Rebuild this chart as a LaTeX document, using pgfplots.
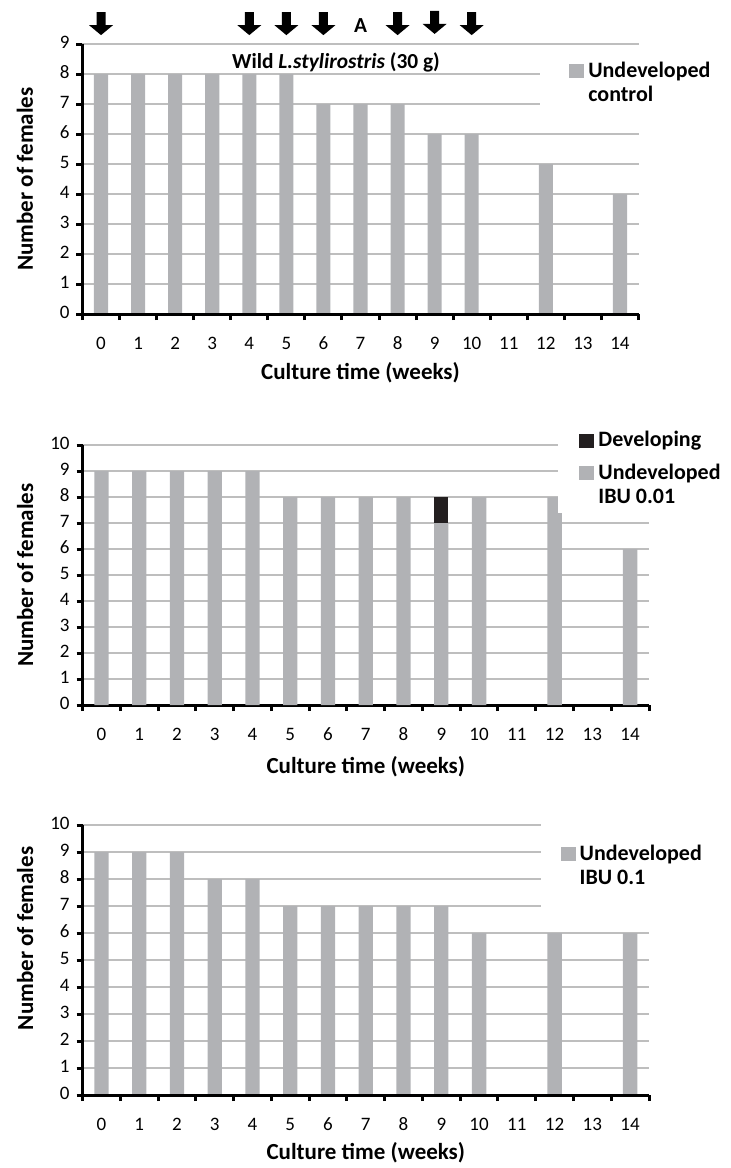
\documentclass[border=0pt]{standalone}
\usepackage{fontspec}
\setmainfont{Carlito}
\usepackage{pgfplots}
\pgfplotsset{compat=1.18}

\definecolor{barg}{RGB}{177,178,181}
\definecolor{dev}{RGB}{35,31,32}
\definecolor{gridg}{RGB}{190,190,190}

\pgfdeclareplotmark{dnarrow}{%
 \pgfpathmoveto{\pgfpoint{-2.25pt}{5.75pt}}%
 \pgfpathlineto{\pgfpoint{2.25pt}{5.75pt}}%
 \pgfpathlineto{\pgfpoint{2.25pt}{-0.75pt}}%
 \pgfpathlineto{\pgfpoint{6pt}{-0.75pt}}%
 \pgfpathlineto{\pgfpoint{0pt}{-5.75pt}}%
 \pgfpathlineto{\pgfpoint{-6pt}{-0.75pt}}%
 \pgfpathlineto{\pgfpoint{-2.25pt}{-0.75pt}}%
 \pgfpathclose
 \pgfusepathqfill}

\pgfplotsset{
 panel/.style={
  scale only axis,
  anchor=south west,
  xmin=-0.5, xmax=14.5, ymin=0,
  axis x line*=bottom, axis y line*=left,
  axis line style={line width=1.5pt,-},
  tick align=outside,
  xtick={0,...,14},
  minor xtick={-0.5,0.5,...,14.5},
  major tick length=3pt,
  minor tick length=3pt,
  tick style={line width=1.5pt, black},
  major x tick style={draw=none},
  ymajorgrids,
  major grid style={gridg, line width=0.75pt},
  ticklabel style={font=\fontsize{9.5}{10.5}\selectfont},
  typeset ticklabels with strut,
  /pgf/number format/assume math mode=true,
  xticklabel style={yshift=-4pt},
  label style={font=\bfseries\fontsize{11.5}{13}\selectfont},
  xlabel={Culture time (weeks)},
  ylabel={Number of females},
  clip=false,
  legend cell align=left,
  legend style={draw=none, fill=white, anchor=west,
    font=\bfseries\fontsize{11}{12}\selectfont,
    cells={anchor=west, align=left}},
 },
 sq/.style={legend image code/.code={\fill[#1] (0pt,-3.5pt) rectangle (7.5pt,3.5pt);}},
 sqtwo/.style={legend image code/.code={\fill[#1] (0pt,2.5pt) rectangle (7.5pt,9.5pt);}},
}

\begin{document}
\begin{tikzpicture}
\path[use as bounding box] (0,0) rectangle (365.5pt,-584pt);

% ---------- Panel 1 ----------
\begin{axis}[panel, at={(41.25pt,-157pt)}, width=278pt, height=135pt,
  ymax=9, ytick={0,...,9},
  xlabel style={at={(axis description cs:0.5,0)}, anchor=center, yshift=-29.5pt},
  ylabel style={at={(axis description cs:-0.1034,0.5)}, anchor=center},
  legend style={at={(axis cs:11.84,7.7)}, inner xsep=14.5pt, inner ysep=6pt}]
\addplot[ybar, bar width=0.38, fill=barg, draw=none, sqtwo={fill=barg}] coordinates {
 (0,8) (1,8) (2,8) (3,8) (4,8) (5,8) (6,7) (7,7) (8,7) (9,6) (10,6) (12,5) (14,4)};
\addlegendentry{Undeveloped\\control}
\addplot[only marks, mark=dnarrow, black, forget plot] coordinates {
 (0,9.68) (4,9.68) (5,9.68) (6,9.68) (8,9.68) (9,9.72) (10,9.68)};
\node[font=\bfseries\fontsize{10.7}{12}\selectfont] at (axis cs:7,9.63) {A};
\node[font=\bfseries\fontsize{10.7}{12}\selectfont] at (axis cs:6.34,8.4) {Wild \textit{L.stylirostris} (30 g)};
\draw[line width=1.5pt] (axis cs:-0.5,0) -- (axis cs:14.5,0);
\end{axis}

% ---------- Panel 2 ----------
\begin{axis}[panel, at={(41.3pt,-352.5pt)}, width=283.2pt, height=130pt,
  ymax=10, ytick={0,...,10},
  ybar stacked, bar width=0.38,
  reverse legend,
  xlabel style={at={(axis description cs:0.5,0)}, anchor=center, yshift=-31pt},
  ylabel style={at={(axis description cs:-0.1015,0.5)}, anchor=center},
  legend style={at={(axis cs:12.09,9.08)}, inner xsep=10.5pt, inner ysep=1.5pt, row sep=3pt}]
\addplot[fill=barg, draw=none, sqtwo={fill=barg}] coordinates {
 (0,9) (1,9) (2,9) (3,9) (4,9) (5,8) (6,8) (7,8) (8,8) (9,7) (10,8) (12,8) (14,6)};
\addlegendentry{Undeveloped\\IBU 0.01}
\addplot[fill=dev, draw=none, sq={fill=dev}] coordinates {
 (0,0) (1,0) (2,0) (3,0) (4,0) (5,0) (6,0) (7,0) (8,0) (9,1) (10,0) (12,0) (14,0)};
\addlegendentry{Developing}
\draw[line width=1.5pt] (axis cs:-0.5,0) -- (axis cs:14.5,0);
\end{axis}

% ---------- Panel 3 ----------
\begin{axis}[panel, at={(41.3pt,-547.5pt)}, width=283.2pt, height=135pt,
  ymax=10, ytick={0,...,10},
  xlabel style={at={(axis description cs:0.5,0)}, anchor=center, yshift=-29pt},
  ylabel style={at={(axis description cs:-0.1015,0.58)}, anchor=center},
  legend style={at={(axis cs:11.62,8.48)}, inner xsep=10pt, inner ysep=12pt}]
\addplot[ybar, bar width=0.38, fill=barg, draw=none, sqtwo={fill=barg}] coordinates {
 (0,9) (1,9) (2,9) (3,8) (4,8) (5,7) (6,7) (7,7) (8,7) (9,7) (10,6) (12,6) (14,6)};
\addlegendentry{Undeveloped\\IBU 0.1}
\draw[line width=1.5pt] (axis cs:-0.5,0) -- (axis cs:14.5,0);
\end{axis}
\end{tikzpicture}
\end{document}
